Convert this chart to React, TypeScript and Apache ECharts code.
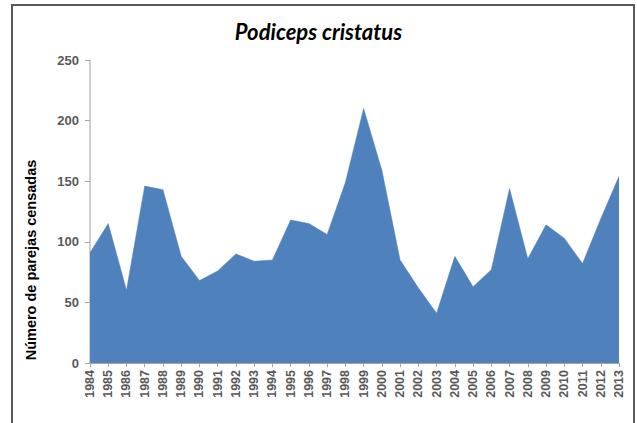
import React, { useEffect, useRef } from "react";
import * as echarts from "echarts";

const years = ["1984","1985","1986","1987","1988","1989","1990","1991","1992","1993","1994","1995","1996","1997","1998","1999","2000","2001","2002","2003","2004","2005","2006","2007","2008","2009","2010","2011","2012","2013"];
const parejas = [91,115,60,146,143,88,68,76,90,84,85,118,115,106,149,210,159,85,62,41,88,63,77,144,86,114,103,82,119,154];
const title = "Podiceps cristatus";
const yName = "Número de parejas censadas";

export default function App() {
  const ref = useRef<HTMLDivElement>(null);
  useEffect(() => {
    const chart = echarts.init(ref.current!, null, { renderer: "svg" });
    chart.setOption({
      animation: false,
      backgroundColor: "#ffffff",
      title: {
        text: title,
        left: "center",
        top: 15,
        textStyle: { fontFamily: "Lato", fontStyle: "italic", fontWeight: "bold", fontSize: 22, color: "#000" },
      },
      graphic: [
        { type: "rect", shape: { x: 12, y: 5, width: 622, height: 440 }, style: { fill: "none", stroke: "#595959", lineWidth: 2 } },
        {
          type: "text",
          x: 31,
          y: 260,
          rotation: Math.PI / 2,
          style: { text: yName, fontFamily: "Arial, Liberation Sans", fontWeight: "bold", fontSize: 14.5, fill: "#000", align: "center", verticalAlign: "middle" },
        },
      ],
      grid: { left: 90, right: 18, top: 60, bottom: 60 },
      xAxis: {
        type: "category",
        data: years,
        boundaryGap: false,
        axisLine: { lineStyle: { color: "#a6a6a6", width: 1 } },
        axisTick: { alignWithLabel: true, length: 4, lineStyle: { color: "#a6a6a6" } },
        axisLabel: { rotate: 90, interval: 0, fontFamily: "Arial, Liberation Sans", fontSize: 12.5, color: "#595959", fontWeight: "bold", margin: 7 },
      },
      yAxis: {
        type: "value",
        min: 0,
        max: 250,
        interval: 50,
        splitLine: { show: false },
        axisLine: { show: true, lineStyle: { color: "#bfbfbf", width: 1.5 } },
        axisTick: { show: true, length: 5, lineStyle: { color: "#a6a6a6" } },
        axisLabel: { fontFamily: "Arial, Liberation Sans", fontSize: 13, color: "#595959", fontWeight: "bold", margin: 11 },
      },
      series: [
        {
          type: "line",
          data: parejas,
          symbol: "none",
          lineStyle: { width: 0.5, color: "#4f81bd" },
          areaStyle: { color: "#4f81bd", opacity: 1 },
        },
      ],
    });
    return () => chart.dispose();
  }, []);
  return <div ref={ref} style={{ width: 637, height: 423, position: "absolute", left: 0, top: 0 }} />;
}
